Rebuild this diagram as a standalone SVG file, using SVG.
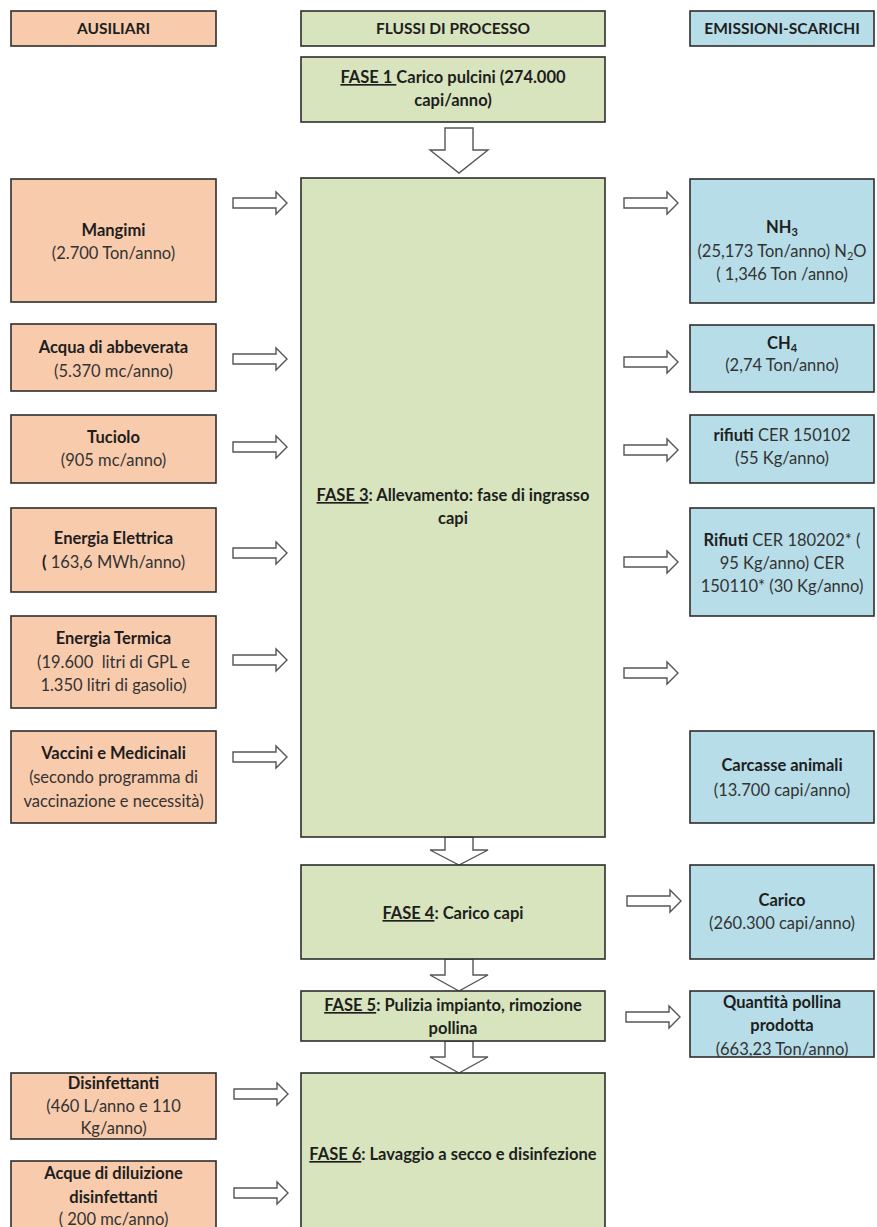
<svg xmlns="http://www.w3.org/2000/svg" xmlns:xlink="http://www.w3.org/1999/xlink" width="877" height="1227" viewBox="0 0 877 1227">
<style>
.o{fill:#F8CBAD;stroke:#2e2e2e;stroke-width:1.6}
.g{fill:#D7E4BD;stroke:#2e2e2e;stroke-width:1.6}
.b{fill:#B7DDE8;stroke:#2e2e2e;stroke-width:1.6}
text{font-family:Lato,"Open Sans","Liberation Sans",sans-serif;font-size:16.5px;fill:#333333;text-anchor:middle}
.t{font-weight:bold;fill:#1e1e1e}
.h{font-size:15.5px}
.u{text-decoration:underline}
.s{font-size:11px}
.ar{fill:#ffffff;stroke:#555555;stroke-width:1.4;stroke-linejoin:miter}
</style>
<defs>
<path id="ra" d="M0,-5 H43 V-11 L54,0 L43,11 V5 H0 Z"/>
</defs>
<rect width="877" height="1227" fill="#ffffff"/>

<g id="connectors">
<path class="ar" d="M445,128 H473 V150 H488 L459,173 L430,150 H445 Z"/>
<path class="ar" d="M445,837 H473 V850 H488 L459,865 L430,850 H445 Z"/>
<path class="ar" d="M445,959 H473 V975 H488 L459,991 L430,975 H445 Z"/>
<path class="ar" d="M445,1041 H473 V1057 H488 L459,1073 L430,1057 H445 Z"/>
<use xlink:href="#ra" href="#ra" class="ar" x="233" y="203"/>
<use xlink:href="#ra" href="#ra" class="ar" x="233" y="359"/>
<use xlink:href="#ra" href="#ra" class="ar" x="233" y="447"/>
<use xlink:href="#ra" href="#ra" class="ar" x="233" y="553"/>
<use xlink:href="#ra" href="#ra" class="ar" x="233" y="660"/>
<use xlink:href="#ra" href="#ra" class="ar" x="233" y="757"/>
<use xlink:href="#ra" href="#ra" class="ar" x="234" y="1094"/>
<use xlink:href="#ra" href="#ra" class="ar" x="234" y="1193"/>
<use xlink:href="#ra" href="#ra" class="ar" x="624" y="203"/>
<use xlink:href="#ra" href="#ra" class="ar" x="624" y="362"/>
<use xlink:href="#ra" href="#ra" class="ar" x="624" y="450"/>
<use xlink:href="#ra" href="#ra" class="ar" x="624" y="562"/>
<use xlink:href="#ra" href="#ra" class="ar" x="624" y="673"/>
<use xlink:href="#ra" href="#ra" class="ar" x="627" y="901"/>
<use xlink:href="#ra" href="#ra" class="ar" x="626" y="1017"/>
</g>

<g id="h-ausiliari"><rect class="o" x="11" y="11" width="205" height="35"/><text class="t h" x="113.5" y="34">AUSILIARI</text></g>
<g id="h-flussi"><rect class="g" x="301" y="11" width="304" height="35"/><text class="t h" x="453" y="34">FLUSSI DI PROCESSO</text></g>
<g id="h-emissioni"><rect class="b" x="690" y="11" width="184" height="35"/><text class="t h" x="782" y="34">EMISSIONI-SCARICHI</text></g>

<g id="fase1"><rect class="g" x="301" y="57" width="304" height="65"/>
<text class="t" x="453" y="83"><tspan class="u">FASE 1 </tspan>Carico pulcini (274.000</text>
<text class="t" x="453" y="106">capi/anno)</text></g>

<g id="fase3"><rect class="g" x="301" y="178" width="304" height="659"/>
<text class="t" x="453" y="501"><tspan class="u">FASE 3</tspan>: Allevamento: fase di ingrasso</text>
<text class="t" x="453" y="524">capi</text></g>

<g id="mangimi"><rect class="o" x="11" y="179" width="205" height="123"/>
<text class="t" x="113.5" y="236">Mangimi</text><text x="113.5" y="259">(2.700 Ton/anno)</text></g>

<g id="acqua"><rect class="o" x="11" y="324" width="205" height="67"/>
<text class="t" x="113.5" y="353">Acqua di abbeverata</text><text x="113.5" y="377">(5.370 mc/anno)</text></g>

<g id="tuciolo"><rect class="o" x="11" y="415" width="205" height="68"/>
<text class="t" x="113.5" y="443">Tuciolo</text><text x="113.5" y="466">(905 mc/anno)</text></g>

<g id="energia-elettrica"><rect class="o" x="11" y="508" width="205" height="84"/>
<text class="t" x="113.5" y="544">Energia Elettrica</text><text x="113.5" y="568"><tspan class="t">(</tspan> 163,6 MWh/anno)</text></g>

<g id="energia-termica"><rect class="o" x="11" y="616" width="205" height="92"/>
<text class="t" x="113.5" y="644">Energia Termica</text><text x="113.5" y="668" xml:space="preserve">(19.600  litri di GPL e</text><text x="113.5" y="691">1.350 litri di gasolio)</text></g>

<g id="vaccini"><rect class="o" x="11" y="731" width="205" height="92"/>
<text class="t" x="113.5" y="759">Vaccini e Medicinali</text><text x="113.5" y="783">(secondo programma di</text><text x="113.5" y="807">vaccinazione e necessità)</text></g>

<g id="nh3"><rect class="b" x="690" y="179" width="184" height="124"/>
<text class="t" x="782" y="233">NH<tspan class="s" dy="3">3</tspan></text>
<text x="782" y="257">(25,173 Ton/anno) N<tspan class="s" dy="3">2</tspan><tspan dy="-3">O</tspan></text>
<text x="782" y="280">( 1,346 Ton /anno)</text></g>

<g id="ch4"><rect class="b" x="690" y="325" width="184" height="67"/>
<text class="t" x="782" y="349">CH<tspan class="s" dy="3">4</tspan></text><text x="782" y="371">(2,74 Ton/anno)</text></g>

<g id="rifiuti1"><rect class="b" x="690" y="415" width="184" height="68"/>
<text x="782" y="441"><tspan class="t">rifiuti</tspan> CER 150102</text><text x="782" y="464">(55 Kg/anno)</text></g>

<g id="rifiuti2"><rect class="b" x="690" y="508" width="184" height="108"/>
<text x="782" y="546"><tspan class="t">Rifiuti</tspan> CER 180202* (</text><text x="782" y="569">95 Kg/anno) CER</text><text x="782" y="592">150110* (30 Kg/anno)</text></g>

<g id="carcasse"><rect class="b" x="690" y="731" width="184" height="92"/>
<text class="t" x="782" y="771">Carcasse animali</text><text x="782" y="796">(13.700 capi/anno)</text></g>

<g id="fase4"><rect class="g" x="301" y="865" width="304" height="94"/>
<text class="t" x="453" y="919"><tspan class="u">FASE 4</tspan>: Carico capi</text></g>

<g id="carico"><rect class="b" x="690" y="865" width="184" height="94"/>
<text class="t" x="782" y="906">Carico</text><text x="782" y="929">(260.300 capi/anno)</text></g>

<g id="fase5"><rect class="g" x="301" y="991" width="304" height="50"/>
<text class="t" x="453" y="1011"><tspan class="u">FASE 5</tspan>: Pulizia impianto, rimozione</text>
<text class="t" x="453" y="1034">pollina</text></g>

<g id="pollina"><rect class="b" x="690" y="991" width="184" height="66"/>
<text class="t" x="782" y="1008">Quantità pollina</text><text class="t" x="782" y="1031">prodotta</text><text x="782" y="1055">(663,23 Ton/anno)</text></g>

<g id="fase6"><rect class="g" x="301" y="1073" width="304" height="170"/>
<text class="t" x="453" y="1160"><tspan class="u">FASE 6</tspan>: Lavaggio a secco e disinfezione</text></g>

<g id="disinfettanti"><rect class="o" x="11" y="1073" width="205" height="66"/>
<text class="t" x="113.5" y="1089">Disinfettanti</text><text x="113.5" y="1112">(460 L/anno e 110</text><text x="113.5" y="1134">Kg/anno)</text></g>

<g id="acque-diluizione"><rect class="o" x="11" y="1161" width="205" height="80"/>
<text class="t" x="113.5" y="1179">Acque di diluizione</text><text class="t" x="113.5" y="1203">disinfettanti</text><text x="113.5" y="1225">( 200 mc/anno)</text></g>
</svg>
